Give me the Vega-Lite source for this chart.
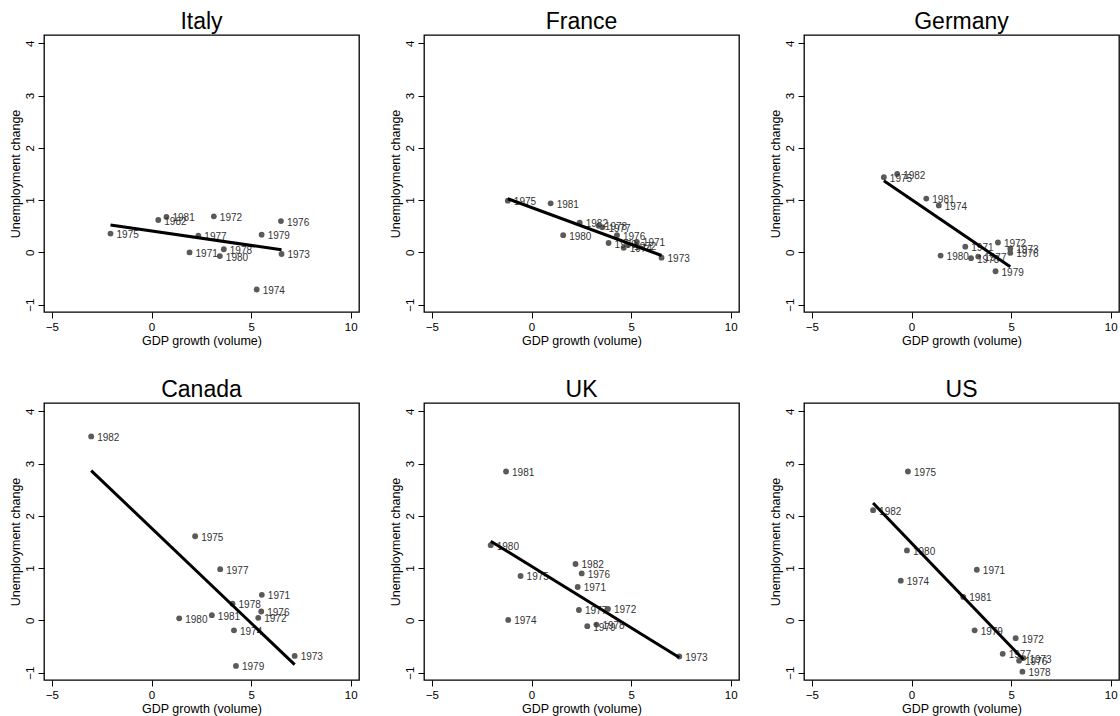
{
  "$schema": "https://vega.github.io/schema/vega-lite/v6.json",
  "padding": {"left": 8, "top": 10, "right": 0, "bottom": 0},
  "background": "white",
  "datasets": {
    "d": [
      {"country": "Italy", "year": "1971", "g": 1.91, "u": 0.00},
      {"country": "Italy", "year": "1972", "g": 3.13, "u": 0.69},
      {"country": "Italy", "year": "1973", "g": 6.53, "u": -0.03},
      {"country": "Italy", "year": "1974", "g": 5.28, "u": -0.71},
      {"country": "Italy", "year": "1975", "g": -2.06, "u": 0.36},
      {"country": "Italy", "year": "1976", "g": 6.50, "u": 0.60},
      {"country": "Italy", "year": "1977", "g": 2.35, "u": 0.32},
      {"country": "Italy", "year": "1978", "g": 3.63, "u": 0.06},
      {"country": "Italy", "year": "1979", "g": 5.53, "u": 0.34},
      {"country": "Italy", "year": "1980", "g": 3.43, "u": -0.07},
      {"country": "Italy", "year": "1981", "g": 0.75, "u": 0.68},
      {"country": "Italy", "year": "1982", "g": 0.34, "u": 0.62},
      {"country": "France", "year": "1971", "g": 5.29, "u": 0.20},
      {"country": "France", "year": "1972", "g": 4.85, "u": 0.14},
      {"country": "France", "year": "1973", "g": 6.53, "u": -0.10},
      {"country": "France", "year": "1974", "g": 4.63, "u": 0.09},
      {"country": "France", "year": "1975", "g": -1.19, "u": 0.99},
      {"country": "France", "year": "1976", "g": 4.29, "u": 0.33},
      {"country": "France", "year": "1977", "g": 3.56, "u": 0.48},
      {"country": "France", "year": "1978", "g": 3.38, "u": 0.51},
      {"country": "France", "year": "1979", "g": 3.87, "u": 0.18},
      {"country": "France", "year": "1980", "g": 1.59, "u": 0.33},
      {"country": "France", "year": "1981", "g": 0.96, "u": 0.94},
      {"country": "France", "year": "1982", "g": 2.42, "u": 0.57},
      {"country": "Germany", "year": "1971", "g": 2.70, "u": 0.11},
      {"country": "Germany", "year": "1972", "g": 4.34, "u": 0.19},
      {"country": "Germany", "year": "1973", "g": 4.96, "u": 0.07},
      {"country": "Germany", "year": "1974", "g": 1.37, "u": 0.90},
      {"country": "Germany", "year": "1975", "g": -1.39, "u": 1.44},
      {"country": "Germany", "year": "1976", "g": 4.96, "u": -0.01},
      {"country": "Germany", "year": "1977", "g": 3.35, "u": -0.08},
      {"country": "Germany", "year": "1978", "g": 2.99, "u": -0.11},
      {"country": "Germany", "year": "1979", "g": 4.22, "u": -0.36},
      {"country": "Germany", "year": "1980", "g": 1.46, "u": -0.06},
      {"country": "Germany", "year": "1981", "g": 0.74, "u": 1.03},
      {"country": "Germany", "year": "1982", "g": -0.72, "u": 1.50},
      {"country": "Canada", "year": "1971", "g": 5.54, "u": 0.49},
      {"country": "Canada", "year": "1972", "g": 5.36, "u": 0.05},
      {"country": "Canada", "year": "1973", "g": 7.19, "u": -0.68},
      {"country": "Canada", "year": "1974", "g": 4.14, "u": -0.19},
      {"country": "Canada", "year": "1975", "g": 2.19, "u": 1.61},
      {"country": "Canada", "year": "1976", "g": 5.51, "u": 0.17},
      {"country": "Canada", "year": "1977", "g": 3.45, "u": 0.98},
      {"country": "Canada", "year": "1978", "g": 4.07, "u": 0.32},
      {"country": "Canada", "year": "1979", "g": 4.24, "u": -0.87},
      {"country": "Canada", "year": "1980", "g": 1.39, "u": 0.04},
      {"country": "Canada", "year": "1981", "g": 3.03, "u": 0.10},
      {"country": "Canada", "year": "1982", "g": -3.03, "u": 3.52},
      {"country": "UK", "year": "1971", "g": 2.32, "u": 0.64},
      {"country": "UK", "year": "1972", "g": 3.84, "u": 0.22},
      {"country": "UK", "year": "1973", "g": 7.42, "u": -0.69},
      {"country": "UK", "year": "1974", "g": -1.17, "u": 0.01},
      {"country": "UK", "year": "1975", "g": -0.55, "u": 0.85},
      {"country": "UK", "year": "1976", "g": 2.52, "u": 0.90},
      {"country": "UK", "year": "1977", "g": 2.38, "u": 0.20},
      {"country": "UK", "year": "1978", "g": 3.26, "u": -0.08},
      {"country": "UK", "year": "1979", "g": 2.80, "u": -0.11},
      {"country": "UK", "year": "1980", "g": -2.05, "u": 1.44},
      {"country": "UK", "year": "1981", "g": -1.28, "u": 2.85},
      {"country": "UK", "year": "1982", "g": 2.21, "u": 1.08},
      {"country": "US", "year": "1971", "g": 3.28, "u": 0.97},
      {"country": "US", "year": "1972", "g": 5.23, "u": -0.34},
      {"country": "US", "year": "1973", "g": 5.62, "u": -0.72},
      {"country": "US", "year": "1974", "g": -0.54, "u": 0.76},
      {"country": "US", "year": "1975", "g": -0.18, "u": 2.85},
      {"country": "US", "year": "1976", "g": 5.40, "u": -0.77},
      {"country": "US", "year": "1977", "g": 4.58, "u": -0.64},
      {"country": "US", "year": "1978", "g": 5.57, "u": -0.98},
      {"country": "US", "year": "1979", "g": 3.17, "u": -0.19},
      {"country": "US", "year": "1980", "g": -0.23, "u": 1.34},
      {"country": "US", "year": "1981", "g": 2.60, "u": 0.45},
      {"country": "US", "year": "1982", "g": -1.93, "u": 2.11}
    ]
  },
  "data": {"name": "d"},
  "columns": 3,
  "spacing": {"row": 30, "column": 28},
  "concat": [
    {
      "title": "Italy", "width": 315, "height": 277,
      "transform": [{"filter": "datum.country === 'Italy'"}],
      "encoding": {
        "x": {"field": "g", "type": "quantitative", "scale": {"domain": [-5.4, 10.42], "nice": false, "zero": false}, "axis": {"title": "GDP growth (volume)", "values": [-5, 0, 5, 10]}},
        "y": {"field": "u", "type": "quantitative", "scale": {"domain": [-1.14, 4.16], "nice": false, "zero": false}, "axis": {"title": "Unemployment change", "values": [-1, 0, 1, 2, 3, 4]}}
      },
      "layer": [
        {"mark": {"type": "point", "filled": true, "size": 34, "color": "#5a5a5a", "opacity": 1}},
        {"mark": {"type": "text", "align": "left", "baseline": "middle", "dx": 6, "dy": 1.5, "fontSize": 10, "color": "#333333"}, "encoding": {"text": {"field": "year", "type": "nominal"}}},
        {"transform": [{"regression": "u", "on": "g"}], "mark": {"type": "line", "color": "black", "strokeWidth": 3}}
      ]
    },
    {
      "title": "France", "width": 315, "height": 277,
      "transform": [{"filter": "datum.country === 'France'"}],
      "encoding": {
        "x": {"field": "g", "type": "quantitative", "scale": {"domain": [-5.4, 10.42], "nice": false, "zero": false}, "axis": {"title": "GDP growth (volume)", "values": [-5, 0, 5, 10]}},
        "y": {"field": "u", "type": "quantitative", "scale": {"domain": [-1.14, 4.16], "nice": false, "zero": false}, "axis": {"title": "Unemployment change", "values": [-1, 0, 1, 2, 3, 4]}}
      },
      "layer": [
        {"mark": {"type": "point", "filled": true, "size": 34, "color": "#5a5a5a", "opacity": 1}},
        {"mark": {"type": "text", "align": "left", "baseline": "middle", "dx": 6, "dy": 1.5, "fontSize": 10, "color": "#333333"}, "encoding": {"text": {"field": "year", "type": "nominal"}}},
        {"transform": [{"regression": "u", "on": "g"}], "mark": {"type": "line", "color": "black", "strokeWidth": 3}}
      ]
    },
    {
      "title": "Germany", "width": 315, "height": 277,
      "transform": [{"filter": "datum.country === 'Germany'"}],
      "encoding": {
        "x": {"field": "g", "type": "quantitative", "scale": {"domain": [-5.4, 10.42], "nice": false, "zero": false}, "axis": {"title": "GDP growth (volume)", "values": [-5, 0, 5, 10]}},
        "y": {"field": "u", "type": "quantitative", "scale": {"domain": [-1.14, 4.16], "nice": false, "zero": false}, "axis": {"title": "Unemployment change", "values": [-1, 0, 1, 2, 3, 4]}}
      },
      "layer": [
        {"mark": {"type": "point", "filled": true, "size": 34, "color": "#5a5a5a", "opacity": 1}},
        {"mark": {"type": "text", "align": "left", "baseline": "middle", "dx": 6, "dy": 1.5, "fontSize": 10, "color": "#333333"}, "encoding": {"text": {"field": "year", "type": "nominal"}}},
        {"transform": [{"regression": "u", "on": "g"}], "mark": {"type": "line", "color": "black", "strokeWidth": 3}}
      ]
    },
    {
      "title": "Canada", "width": 315, "height": 277,
      "transform": [{"filter": "datum.country === 'Canada'"}],
      "encoding": {
        "x": {"field": "g", "type": "quantitative", "scale": {"domain": [-5.4, 10.42], "nice": false, "zero": false}, "axis": {"title": "GDP growth (volume)", "values": [-5, 0, 5, 10]}},
        "y": {"field": "u", "type": "quantitative", "scale": {"domain": [-1.14, 4.16], "nice": false, "zero": false}, "axis": {"title": "Unemployment change", "values": [-1, 0, 1, 2, 3, 4]}}
      },
      "layer": [
        {"mark": {"type": "point", "filled": true, "size": 34, "color": "#5a5a5a", "opacity": 1}},
        {"mark": {"type": "text", "align": "left", "baseline": "middle", "dx": 6, "dy": 1.5, "fontSize": 10, "color": "#333333"}, "encoding": {"text": {"field": "year", "type": "nominal"}}},
        {"transform": [{"regression": "u", "on": "g"}], "mark": {"type": "line", "color": "black", "strokeWidth": 3}}
      ]
    },
    {
      "title": "UK", "width": 315, "height": 277,
      "transform": [{"filter": "datum.country === 'UK'"}],
      "encoding": {
        "x": {"field": "g", "type": "quantitative", "scale": {"domain": [-5.4, 10.42], "nice": false, "zero": false}, "axis": {"title": "GDP growth (volume)", "values": [-5, 0, 5, 10]}},
        "y": {"field": "u", "type": "quantitative", "scale": {"domain": [-1.14, 4.16], "nice": false, "zero": false}, "axis": {"title": "Unemployment change", "values": [-1, 0, 1, 2, 3, 4]}}
      },
      "layer": [
        {"mark": {"type": "point", "filled": true, "size": 34, "color": "#5a5a5a", "opacity": 1}},
        {"mark": {"type": "text", "align": "left", "baseline": "middle", "dx": 6, "dy": 1.5, "fontSize": 10, "color": "#333333"}, "encoding": {"text": {"field": "year", "type": "nominal"}}},
        {"transform": [{"regression": "u", "on": "g"}], "mark": {"type": "line", "color": "black", "strokeWidth": 3}}
      ]
    },
    {
      "title": "US", "width": 315, "height": 277,
      "transform": [{"filter": "datum.country === 'US'"}],
      "encoding": {
        "x": {"field": "g", "type": "quantitative", "scale": {"domain": [-5.4, 10.42], "nice": false, "zero": false}, "axis": {"title": "GDP growth (volume)", "values": [-5, 0, 5, 10]}},
        "y": {"field": "u", "type": "quantitative", "scale": {"domain": [-1.14, 4.16], "nice": false, "zero": false}, "axis": {"title": "Unemployment change", "values": [-1, 0, 1, 2, 3, 4]}}
      },
      "layer": [
        {"mark": {"type": "point", "filled": true, "size": 34, "color": "#5a5a5a", "opacity": 1}},
        {"mark": {"type": "text", "align": "left", "baseline": "middle", "dx": 6, "dy": 1.5, "fontSize": 10, "color": "#333333"}, "encoding": {"text": {"field": "year", "type": "nominal"}}},
        {"transform": [{"regression": "u", "on": "g"}], "mark": {"type": "line", "color": "black", "strokeWidth": 3}}
      ]
    }
  ],
  "config": {
    "font": "Liberation Sans",
    "view": {"stroke": "black", "strokeWidth": 1.3},
    "axis": {"grid": false, "domain": false, "tickColor": "black", "tickSize": 6, "tickWidth": 1, "labelColor": "black", "titleColor": "black", "labelFontSize": 11.5, "titleFontSize": 12.5, "titleFontWeight": "normal", "labelFont": "Liberation Sans", "titleFont": "Liberation Sans", "labelFlush": false, "labelOverlap": false},
    "axisY": {"labelAngle": 270, "labelAlign": "center", "labelBaseline": "bottom", "labelPadding": 3, "titlePadding": 2},
    "axisX": {"labelPadding": 3, "titlePadding": 2},
    "title": {"fontSize": 23, "fontWeight": "normal", "color": "black", "offset": 1, "frame": "group", "anchor": "middle", "font": "Liberation Sans"}
  }
}
